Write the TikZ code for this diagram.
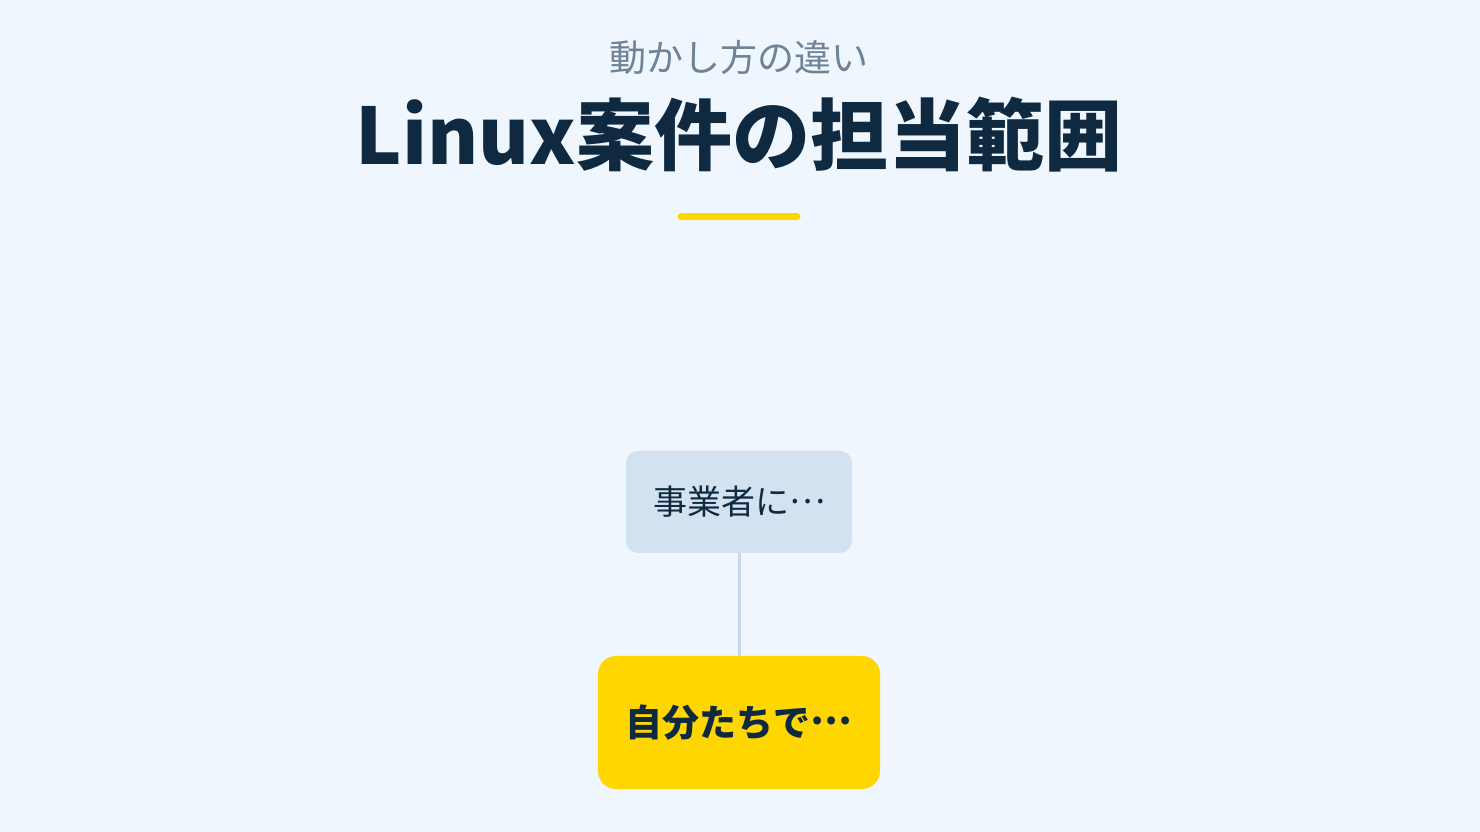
\documentclass[tikz,border=0pt]{standalone}
\usepackage{fontspec}
\newfontfamily\jpfont{Noto Sans CJK JP}
\usepackage{tikz}
\definecolor{bgblue}{HTML}{F0F6FD}
\definecolor{navy}{HTML}{0E2940}
\definecolor{greytext}{HTML}{6E8496}
\definecolor{boxblue}{HTML}{D3E2F0}
\definecolor{linkblue}{HTML}{C6D7E7}
\definecolor{gold}{HTML}{FFD600}
\newcommand{\midellip}{\raisebox{0.33em}{…}}
\begin{document}
\begin{tikzpicture}[x=1pt, y=1pt,
		box/.style={rounded corners=12pt, inner sep=0pt, text=navy, font=\jpfont\fontsize{34}{34}\selectfont}]
			\fill[bgblue] (0,0) rectangle (1480,832);
			\useasboundingbox (0,0) rectangle (1480,832);
			\node[text=greytext, font=\jpfont\fontsize{37}{37}\selectfont] (sub) at (739,775) {動かし方の違い};
			\node[text=navy, font=\jpfont\bfseries\fontsize{78}{78}\selectfont] (title) at (739,697) {Linux案件の担当範囲};
			\draw[gold, line width=7pt, line cap=round] (681,615) -- (797,615);
			\node[box, fill=boxblue, minimum width=226pt, minimum height=102pt] (vendor) at (739,330) {事業者に\midellip};
			\node[box, fill=gold, rounded corners=18pt, minimum width=282pt, minimum height=133pt, font=\jpfont\bfseries\fontsize{37}{37}\selectfont] (self) at (739,109.5) {自分たちで\midellip};
			\draw[linkblue, line width=3pt] (vendor) -- (self);
		\end{tikzpicture}
\end{document}
